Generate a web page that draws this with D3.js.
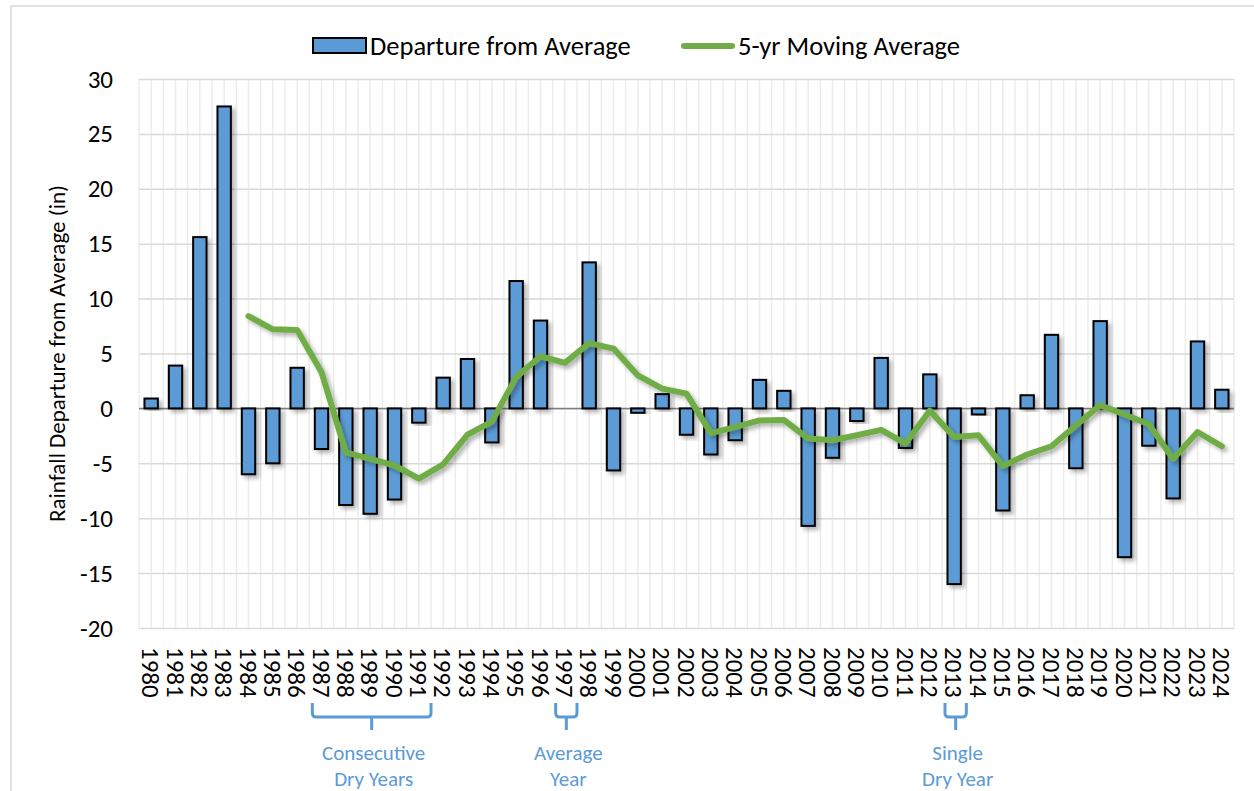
<!DOCTYPE html>
<html lang="en">
<head>
<meta charset="utf-8">
<script src="https://d3js.org/d3.v7.min.js"></script>
<style>
  body { margin: 0; background: #fff; }
  svg text { font-family: Carlito, Calibri, Lato, sans-serif; }
</style>
</head>
<body>
<script>
// years on the category axis
var years = d3.range(1980, 2025).map(String);

// annual rainfall departure from average (in)
var departure = [0.9, 3.9, 15.6, 27.5, -6.0, -5.0, 3.7, -3.7, -8.8, -9.6,
                 -8.3, -1.3, 2.8, 4.5, -3.1, 11.6, 8.0, 0.0, 13.3, -5.65,
                 -0.4, 1.3, -2.4, -4.2, -2.9, 2.6, 1.6, -10.7, -4.5, -1.15,
                 4.6, -3.6, 3.1, -16.0, -0.55, -9.3, 1.2, 6.7, -5.45, 7.95,
                 -13.55, -3.4, -8.2, 6.1, 1.7];

// 5-yr moving average (none for the first four years)
var movingAvg = [null, null, null, null, 8.4, 7.2, 7.15, 3.3, -4.0, -4.6,
                 -5.2, -6.4, -5.1, -2.4, -1.2, 2.85, 4.75, 4.15, 5.95, 5.45,
                 3.0, 1.8, 1.35, -2.25, -1.7, -1.1, -1.05, -2.75, -2.9, -2.45,
                 -1.95, -3.2, -0.2, -2.6, -2.45, -5.25, -4.2, -3.45, -1.55, 0.3,
                 -0.55, -1.45, -4.6, -2.15, -3.45];

var yTicks = [-20, -15, -10, -5, 0, 5, 10, 15, 20, 25, 30];

var legendText = ["Departure from Average", "5-yr Moving Average"];

// annotation brackets under the year labels
var noteFrom  = ["1987", "1997", "2013"];
var noteTo    = ["1991", "1997", "2013"];
var noteLines = [["Consecutive", "Dry Years"], ["Average", "Year"], ["Single", "Dry Year"]];

var width = 1254, height = 791;
var plotLeft = 139, plotRight = 1234, plotTop = 79, plotBottom = 628;

var blue = "#5B9BD5", green = "#70AD47";

var svg = d3.select("body").append("svg")
  .attr("width", width)
  .attr("height", height);

var defs = svg.append("defs");
var shadow = defs.append("filter").attr("id", "shadow")
  .attr("x", "-50%").attr("y", "-20%").attr("width", "200%").attr("height", "140%");
shadow.append("feDropShadow")
  .attr("dx", 3).attr("dy", 3).attr("stdDeviation", 2.2)
  .attr("flood-color", "#000").attr("flood-opacity", 0.3);

// chart frame
svg.append("rect")
  .attr("x", 11).attr("y", 6)
  .attr("width", 1260).attr("height", 820)
  .attr("fill", "none").attr("stroke", "#d9d9d9").attr("stroke-width", 1.5);

var x = d3.scaleBand()
  .domain(years)
  .range([plotLeft, plotRight])
  .paddingInner(0.45)
  .paddingOuter(0.225);

var y = d3.scaleLinear()
  .domain([-20, 30])
  .range([plotBottom, plotTop]);

var step = x.step();

// vertical minor grid: every half category
svg.append("g")
  .selectAll("line")
  .data(d3.range(0, years.length * 2 + 1))
  .enter().append("line")
  .attr("x1", function(k) { return plotLeft + k * step / 2; })
  .attr("x2", function(k) { return plotLeft + k * step / 2; })
  .attr("y1", plotTop).attr("y2", plotBottom)
  .attr("stroke", "#ececec").attr("stroke-width", 1.5);

// horizontal grid + y axis labels (plain hyphen for negatives, like the original)
var yAxis = svg.append("g")
  .attr("transform", "translate(" + plotLeft + ",0)")
  .call(d3.axisLeft(y).tickValues(yTicks).tickSize(-(plotRight - plotLeft)).tickPadding(26)
    .tickFormat(function(d) { return String(d); }));
yAxis.select(".domain").remove();
yAxis.selectAll(".tick line").attr("stroke", "#d9d9d9").attr("stroke-width", 1.5);
yAxis.selectAll(".tick text").attr("fill", "#000").style("font-size", "25px");

// zero line
svg.append("line")
  .attr("x1", plotLeft).attr("x2", plotRight)
  .attr("y1", y(0)).attr("y2", y(0))
  .attr("stroke", "#7f7f7f").attr("stroke-width", 1.5);

// bars
svg.append("g")
  .selectAll("rect")
  .data(years)
  .enter().append("rect")
  .filter(function(d, i) { return departure[i] !== 0; })
  .attr("x", function(d) { return x(d); })
  .attr("y", function(d) { return y(Math.max(0, departure[years.indexOf(d)])); })
  .attr("width", x.bandwidth())
  .attr("height", function(d) { return Math.abs(y(departure[years.indexOf(d)]) - y(0)); })
  .attr("fill", blue)
  .attr("stroke", "#000")
  .attr("stroke-width", 2)
  .attr("filter", "url(#shadow)");

// moving average line
var line = d3.line()
  .defined(function(d) { return d !== null; })
  .x(function(d, i) { return x(years[i]) + x.bandwidth() / 2; })
  .y(function(d) { return y(d); });

svg.append("path")
  .datum(movingAvg)
  .attr("d", line)
  .attr("fill", "none")
  .attr("stroke", green)
  .attr("stroke-width", 6)
  .attr("stroke-linejoin", "round")
  .attr("stroke-linecap", "round")
  .attr("filter", "url(#shadow)");

// year labels, rotated to read top to bottom
svg.append("g")
  .selectAll("text")
  .data(years)
  .enter().append("text")
  .attr("transform", function(d) { return "translate(" + (x(d) + x.bandwidth() / 2) + ",647) rotate(90)"; })
  .attr("dy", "0.35em")
  .attr("text-anchor", "start")
  .style("font-size", "25px")
  .text(function(d) { return d; });

// y axis title
svg.append("text")
  .attr("transform", "translate(57," + ((plotTop + plotBottom) / 2) + ") rotate(-90)")
  .attr("text-anchor", "middle")
  .attr("dy", "0.35em")
  .style("font-size", "23px")
  .text("Rainfall Departure from Average (in)");

// legend
var legend = svg.append("g");
legend.append("rect")
  .attr("x", 313).attr("y", 38).attr("width", 53).attr("height", 15)
  .attr("fill", blue).attr("stroke", "#000").attr("stroke-width", 2);
legend.append("text")
  .attr("x", 370).attr("y", 46).attr("dy", "0.35em")
  .style("font-size", "26.5px")
  .text(legendText[0]);
legend.append("line")
  .attr("x1", 684).attr("x2", 732).attr("y1", 46).attr("y2", 46)
  .attr("stroke", green).attr("stroke-width", 6).attr("stroke-linecap", "round");
legend.append("text")
  .attr("x", 738).attr("y", 46).attr("dy", "0.35em")
  .style("font-size", "26.5px")
  .text(legendText[1]);

// annotation brackets
var notes = svg.append("g").attr("fill", "none");
noteFrom.forEach(function(from, i) {
  var x0 = x(from) - step * 0.225 + 3;
  var x1 = x(noteTo[i]) + x.bandwidth() + step * 0.225;
  var xm = (x0 + x1) / 2;
  var r = 4;
  var path = d3.path();
  path.moveTo(x0, 703);
  path.lineTo(x0, 717 - r);
  path.quadraticCurveTo(x0, 717, x0 + r, 717);
  path.lineTo(x1 - r, 717);
  path.quadraticCurveTo(x1, 717, x1, 717 - r);
  path.lineTo(x1, 703);
  path.moveTo(xm, 717);
  path.lineTo(xm, 730);
  notes.append("path")
    .attr("d", path.toString())
    .attr("stroke", blue).attr("stroke-width", 3);
  noteLines[i].forEach(function(t, j) {
    svg.append("text")
      .attr("x", xm + 2).attr("y", 760 + j * 26)
      .attr("text-anchor", "middle")
      .attr("fill", blue)
      .style("font-size", "21px")
      .text(t);
  });
});
</script>
</body>
</html>
